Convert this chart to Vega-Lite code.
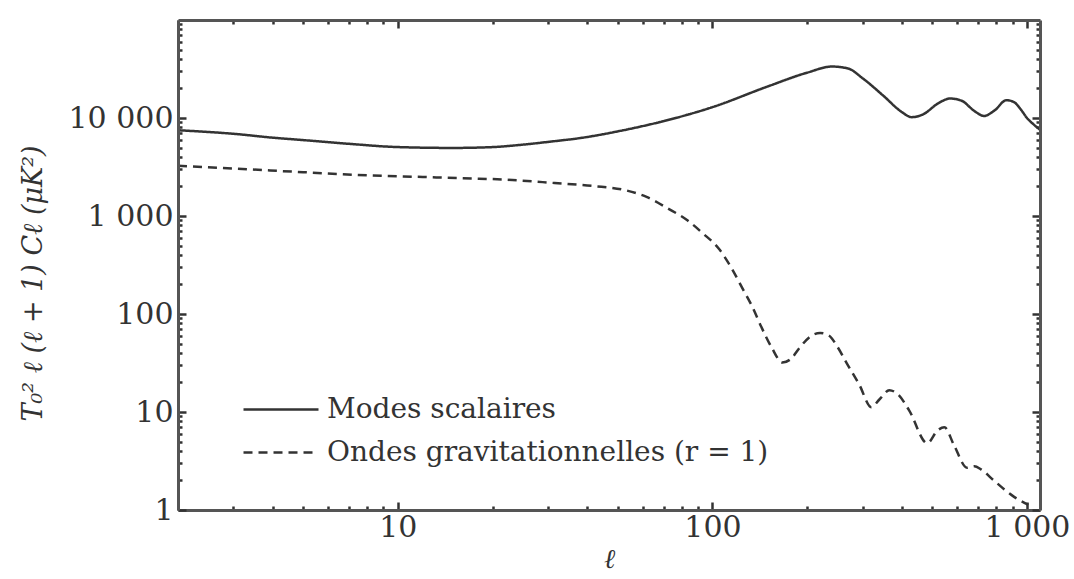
{
  "$schema": "https://vega.github.io/schema/vega-lite/v6.json",
  "width": 862,
  "height": 490,
  "autosize": {"type": "none"},
  "padding": {"left": 178, "top": 20, "right": 34, "bottom": 69},
  "background": "white",
  "config": {"view": {"stroke": null}, "font": "DejaVu Serif"},
  "datasets": {
    "curves": [
      {"l": 2, "v": 7500, "s": "Modes scalaires"},
      {"l": 2.5, "v": 7200, "s": "Modes scalaires"},
      {"l": 3, "v": 6900, "s": "Modes scalaires"},
      {"l": 4, "v": 6300, "s": "Modes scalaires"},
      {"l": 5, "v": 5950, "s": "Modes scalaires"},
      {"l": 7, "v": 5450, "s": "Modes scalaires"},
      {"l": 10, "v": 5050, "s": "Modes scalaires"},
      {"l": 15, "v": 4950, "s": "Modes scalaires"},
      {"l": 20, "v": 5050, "s": "Modes scalaires"},
      {"l": 25, "v": 5350, "s": "Modes scalaires"},
      {"l": 30, "v": 5700, "s": "Modes scalaires"},
      {"l": 40, "v": 6400, "s": "Modes scalaires"},
      {"l": 50, "v": 7300, "s": "Modes scalaires"},
      {"l": 70, "v": 9300, "s": "Modes scalaires"},
      {"l": 100, "v": 12900, "s": "Modes scalaires"},
      {"l": 150, "v": 21000, "s": "Modes scalaires"},
      {"l": 200, "v": 29000, "s": "Modes scalaires"},
      {"l": 240, "v": 33500, "s": "Modes scalaires"},
      {"l": 270, "v": 32000, "s": "Modes scalaires"},
      {"l": 300, "v": 25500, "s": "Modes scalaires"},
      {"l": 350, "v": 16800, "s": "Modes scalaires"},
      {"l": 400, "v": 11500, "s": "Modes scalaires"},
      {"l": 430, "v": 10200, "s": "Modes scalaires"},
      {"l": 470, "v": 11000, "s": "Modes scalaires"},
      {"l": 520, "v": 14000, "s": "Modes scalaires"},
      {"l": 570, "v": 15800, "s": "Modes scalaires"},
      {"l": 620, "v": 15000, "s": "Modes scalaires"},
      {"l": 680, "v": 11800, "s": "Modes scalaires"},
      {"l": 730, "v": 10500, "s": "Modes scalaires"},
      {"l": 790, "v": 12000, "s": "Modes scalaires"},
      {"l": 860, "v": 15200, "s": "Modes scalaires"},
      {"l": 910, "v": 14500, "s": "Modes scalaires"},
      {"l": 960, "v": 12000, "s": "Modes scalaires"},
      {"l": 1000, "v": 10000, "s": "Modes scalaires"},
      {"l": 1050, "v": 8600, "s": "Modes scalaires"},
      {"l": 1100, "v": 7600, "s": "Modes scalaires"},
      {"l": 2, "v": 3250, "s": "Ondes gravitationnelles (r = 1)"},
      {"l": 3, "v": 3050, "s": "Ondes gravitationnelles (r = 1)"},
      {"l": 5, "v": 2800, "s": "Ondes gravitationnelles (r = 1)"},
      {"l": 8, "v": 2600, "s": "Ondes gravitationnelles (r = 1)"},
      {"l": 12, "v": 2500, "s": "Ondes gravitationnelles (r = 1)"},
      {"l": 16, "v": 2430, "s": "Ondes gravitationnelles (r = 1)"},
      {"l": 22, "v": 2350, "s": "Ondes gravitationnelles (r = 1)"},
      {"l": 31.5, "v": 2170, "s": "Ondes gravitationnelles (r = 1)"},
      {"l": 42, "v": 2020, "s": "Ondes gravitationnelles (r = 1)"},
      {"l": 52.6, "v": 1840, "s": "Ondes gravitationnelles (r = 1)"},
      {"l": 62, "v": 1560, "s": "Ondes gravitationnelles (r = 1)"},
      {"l": 72, "v": 1200, "s": "Ondes gravitationnelles (r = 1)"},
      {"l": 83, "v": 910, "s": "Ondes gravitationnelles (r = 1)"},
      {"l": 93, "v": 670, "s": "Ondes gravitationnelles (r = 1)"},
      {"l": 105, "v": 460, "s": "Ondes gravitationnelles (r = 1)"},
      {"l": 115, "v": 294, "s": "Ondes gravitationnelles (r = 1)"},
      {"l": 124, "v": 188, "s": "Ondes gravitationnelles (r = 1)"},
      {"l": 134, "v": 118, "s": "Ondes gravitationnelles (r = 1)"},
      {"l": 143, "v": 74, "s": "Ondes gravitationnelles (r = 1)"},
      {"l": 154, "v": 46, "s": "Ondes gravitationnelles (r = 1)"},
      {"l": 167, "v": 32, "s": "Ondes gravitationnelles (r = 1)"},
      {"l": 178, "v": 35, "s": "Ondes gravitationnelles (r = 1)"},
      {"l": 189, "v": 45, "s": "Ondes gravitationnelles (r = 1)"},
      {"l": 208, "v": 61, "s": "Ondes gravitationnelles (r = 1)"},
      {"l": 220, "v": 64, "s": "Ondes gravitationnelles (r = 1)"},
      {"l": 235, "v": 60, "s": "Ondes gravitationnelles (r = 1)"},
      {"l": 250, "v": 46, "s": "Ondes gravitationnelles (r = 1)"},
      {"l": 268, "v": 31, "s": "Ondes gravitationnelles (r = 1)"},
      {"l": 293, "v": 19, "s": "Ondes gravitationnelles (r = 1)"},
      {"l": 320, "v": 11.2, "s": "Ondes gravitationnelles (r = 1)"},
      {"l": 340, "v": 13.5, "s": "Ondes gravitationnelles (r = 1)"},
      {"l": 365, "v": 16.7, "s": "Ondes gravitationnelles (r = 1)"},
      {"l": 390, "v": 15, "s": "Ondes gravitationnelles (r = 1)"},
      {"l": 422, "v": 10.4, "s": "Ondes gravitationnelles (r = 1)"},
      {"l": 482, "v": 4.8, "s": "Ondes gravitationnelles (r = 1)"},
      {"l": 520, "v": 6.5, "s": "Ondes gravitationnelles (r = 1)"},
      {"l": 546, "v": 7, "s": "Ondes gravitationnelles (r = 1)"},
      {"l": 586, "v": 4.6, "s": "Ondes gravitationnelles (r = 1)"},
      {"l": 645, "v": 2.7, "s": "Ondes gravitationnelles (r = 1)"},
      {"l": 680, "v": 2.8, "s": "Ondes gravitationnelles (r = 1)"},
      {"l": 714, "v": 2.6, "s": "Ondes gravitationnelles (r = 1)"},
      {"l": 785, "v": 2.0, "s": "Ondes gravitationnelles (r = 1)"},
      {"l": 910, "v": 1.36, "s": "Ondes gravitationnelles (r = 1)"},
      {"l": 1010, "v": 1.13, "s": "Ondes gravitationnelles (r = 1)"}
    ]
  },
  "data": {"name": "curves"},
  "layer": [
    {
      "mark": {"type": "line", "interpolate": "monotone", "color": "#333333", "strokeWidth": 2.5, "clip": true},
      "encoding": {
        "x": {
          "field": "l", "type": "quantitative",
          "scale": {"type": "log", "domain": [2, 1100], "nice": false},
          "axis": {
            "orient": "bottom",
            "values": [2,3,4,5,6,7,8,9,10,20,30,40,50,60,70,80,90,100,200,300,400,500,600,700,800,900,1000],
            "labelExpr": "datum.value == 10 ? '10' : datum.value == 100 ? '100' : datum.value == 1000 ? '1 000' : ''",
            "tickSize": {"condition": {"test": "datum.value == 10 || datum.value == 100 || datum.value == 1000", "value": -8}, "value": -4},
            "tickColor": "#333333", "tickWidth": 2.5, "zindex": 1,
            "domainColor": "#555555", "domainWidth": 3,
            "labelFont": "DejaVu Serif", "labelFontSize": 30, "labelColor": "#333333",
            "labelPadding": 10, "labelOverlap": false, "labelFlush": false,
            "grid": false,
            "title": "ℓ", "titleFont": "DejaVu Serif", "titleFontSize": 27, "titleFontStyle": "italic", "titleFontWeight": "normal", "titleColor": "#333333", "titlePadding": 0
          }
        },
        "y": {
          "field": "v", "type": "quantitative",
          "scale": {"type": "log", "domain": [1, 100000], "nice": false},
          "axis": {
            "orient": "left",
            "values": [1,2,3,4,5,6,7,8,9,10,20,30,40,50,60,70,80,90,100,200,300,400,500,600,700,800,900,1000,2000,3000,4000,5000,6000,7000,8000,9000,10000,20000,30000,40000,50000,60000,70000,80000,90000],
            "labelExpr": "datum.value == 1 ? '1' : datum.value == 10 ? '10' : datum.value == 100 ? '100' : datum.value == 1000 ? '1 000' : datum.value == 10000 ? '10 000' : ''",
            "tickSize": {"condition": {"test": "datum.value == 1 || datum.value == 10 || datum.value == 100 || datum.value == 1000 || datum.value == 10000", "value": -8}, "value": -4},
            "tickColor": "#333333", "tickWidth": 2.5, "zindex": 1,
            "domainColor": "#555555", "domainWidth": 3,
            "labelFont": "DejaVu Serif", "labelFontSize": 30, "labelColor": "#333333",
            "labelPadding": 13, "labelOverlap": false, "labelFlush": false,
            "grid": false,
            "title": "T₀² ℓ (ℓ + 1) Cℓ (μK²)", "titleFont": "DejaVu Serif", "titleFontSize": 27, "titleFontStyle": "italic", "titleFontWeight": "normal", "titleColor": "#333333",
            "titleX": -145, "titleY": 263, "titleAngle": 270, "titleAlign": "center", "titleBaseline": "middle"
          }
        },
        "strokeDash": {
          "field": "s", "type": "nominal",
          "scale": {"domain": ["Modes scalaires", "Ondes gravitationnelles (r = 1)"], "range": [[1, 0], [9, 6]]},
          "legend": {
            "orient": "none", "legendX": 86.5, "legendY": 373, "title": null,
            "symbolType": "M-2.5,0H2.5", "symbolSize": 900, "symbolStrokeWidth": 2.5, "symbolStrokeColor": "#333333",
            "labelFont": "DejaVu Serif", "labelFontSize": 28, "labelColor": "#333333", "labelOffset": 29.5, "labelLimit": 0,
            "rowPadding": 12
          }
        }
      }
    },
    {
      "mark": {"type": "line", "opacity": 0},
      "encoding": {
        "x": {
          "field": "l", "type": "quantitative",
          "scale": {"type": "log", "domain": [2, 1100], "nice": false},
          "axis": {
            "orient": "top",
            "values": [2,3,4,5,6,7,8,9,10,20,30,40,50,60,70,80,90,100,200,300,400,500,600,700,800,900,1000],
            "labels": false, "title": null,
            "tickSize": {"condition": {"test": "datum.value == 10 || datum.value == 100 || datum.value == 1000", "value": -8}, "value": -4},
            "tickColor": "#333333", "tickWidth": 2.5, "zindex": 1,
            "domainColor": "#555555", "domainWidth": 3, "grid": false
          }
        },
        "y": {
          "field": "v", "type": "quantitative",
          "scale": {"type": "log", "domain": [1, 100000], "nice": false},
          "axis": {
            "orient": "right",
            "values": [1,2,3,4,5,6,7,8,9,10,20,30,40,50,60,70,80,90,100,200,300,400,500,600,700,800,900,1000,2000,3000,4000,5000,6000,7000,8000,9000,10000,20000,30000,40000,50000,60000,70000,80000,90000],
            "labels": false, "title": null,
            "tickSize": {"condition": {"test": "datum.value == 1 || datum.value == 10 || datum.value == 100 || datum.value == 1000 || datum.value == 10000", "value": -8}, "value": -4},
            "tickColor": "#333333", "tickWidth": 2.5, "zindex": 1,
            "domainColor": "#555555", "domainWidth": 3, "grid": false
          }
        }
      }
    }
  ],
  "resolve": {"axis": {"x": "independent", "y": "independent"}}
}
